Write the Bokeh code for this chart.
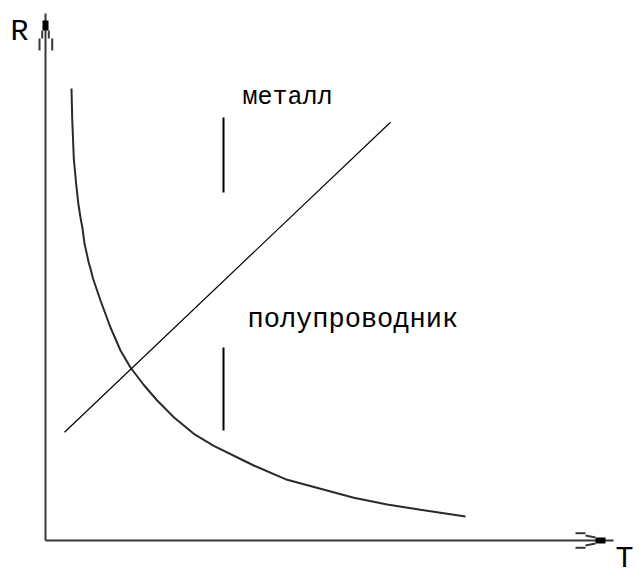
from bokeh.plotting import figure
from bokeh.models import Range1d
from bokeh.embed import file_html
from bokeh.resources import INLINE
from bokeh.core.properties import value

# ---- data (T, R); origin at the axes' corner ----
semi_T = [26, 26.7, 28.3, 30.5, 32.8, 35, 37, 39, 41, 43.2, 45.5, 47.5, 55, 65, 75, 85,
          98.3, 111.7, 128.3, 148.3, 168.3, 195, 208.3, 241.7, 275, 308.3, 341.7, 375, 420]
semi_R = [452, 422, 382, 358, 337, 323, 312, 297, 288, 278, 270, 262, 240, 213, 190, 173,
          155.5, 140, 123.3, 106.7, 94.7, 81.5, 75, 60.7, 51.7, 42.7, 36, 30.7, 24]

metal_T = [19, 345]
metal_R = [108.3, 418.3]

# pointer bars for the two labels
bar_T = [[178, 178], [178, 178]]
bar_R = [[423, 348], [193, 110]]

labels = ["металл", "полупроводник"]
label_T = [197, 202]
label_R = [443, 221]

axis_names = ["R", "T"]
axis_name_T = [-35, 570]
axis_name_R = [509, -18]

# axes and their arrow heads
yaxis_T = [0, 0]
yaxis_R = [0, 527]
xaxis_T = [0, 568]
xaxis_R = [0, 0]
yhead_left, yhead_right, yhead_bottom, yhead_top = -3, 3, 510, 520
xhead_left, xhead_right, xhead_bottom, xhead_top = 550, 560, -3, 3
ybarb_T = [[-3.3, -3.3], [-6, -6], [3.3, 3.3], [6.7, 6.7]]
ybarb_R = [[510, 502], [502, 490], [510, 502], [502, 490]]
xbarb_T = [[540, 550], [530, 540], [540, 550], [530, 540]]
xbarb_R = [[5, 3], [7.3, 7.3], [-5, -3], [-7.3, -7.3]]

p = figure(width=641, height=575, output_backend="svg", toolbar_location=None,
           x_range=Range1d(-45, 596), y_range=Range1d(-35, 540), min_border=0)
p.axis.visible = False
p.grid.visible = False
p.outline_line_color = None
p.background_fill_color = "white"
p.border_fill_color = "white"

axis_col = "#383838"
p.line(yaxis_T, yaxis_R, line_color=axis_col, line_width=2)
p.line(xaxis_T, xaxis_R, line_color=axis_col, line_width=2)
p.quad(left=[yhead_left], right=[yhead_right], bottom=[yhead_bottom], top=[yhead_top],
       fill_color="black", line_color=None)
p.quad(left=[xhead_left], right=[xhead_right], bottom=[xhead_bottom], top=[xhead_top],
       fill_color="black", line_color=None)
p.multi_line(ybarb_T, ybarb_R, line_color=axis_col, line_width=2)
p.multi_line(xbarb_T, xbarb_R, line_color=axis_col, line_width=2)

p.line(semi_T, semi_R, line_color="#2a2a2a", line_width=2)
p.line(metal_T, metal_R, line_color="black", line_width=1.2)
p.multi_line(bar_T, bar_R, line_color="black", line_width=2)

font = value("Liberation Mono")
p.text(label_T[:1], label_R[:1], text=labels[:1], text_font=font,
       text_font_size="25px", text_color="black", text_baseline="alphabetic")
p.text(label_T[1:], label_R[1:], text=labels[1:], text_font=font,
       text_font_size="27px", text_color="black", text_baseline="alphabetic")
p.text(axis_name_T, axis_name_R, text=axis_names, text_font=font,
       text_font_size="30px", text_color="black", text_baseline="alphabetic")

open("out.html", "w").write(file_html(p, INLINE))
